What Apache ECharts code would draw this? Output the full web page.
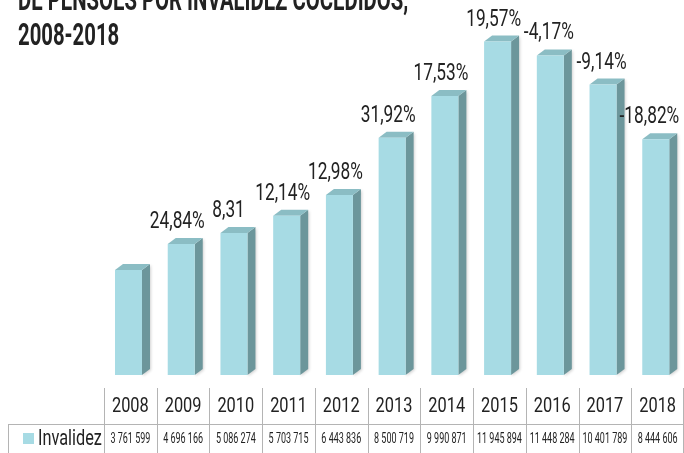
<!DOCTYPE html>
<html>
<head>
<meta charset="utf-8">
<script src="https://cdn.jsdelivr.net/npm/echarts@6/dist/echarts.min.js"></script>
<style>
html,body{margin:0;padding:0;background:#fff;}
#chart{width:684px;height:453px;}
</style>
</head>
<body>
<div id="chart"></div>
<script>
const years = ['2008','2009','2010','2011','2012','2013','2014','2015','2016','2017','2018'];
const values = [3761599, 4696166, 5086274, 5703715, 6443836, 8500719, 9990871, 11945894, 11448284, 10401789, 8444606];
const pctLabels = ['', '24,84%', '8,31', '12,14%', '12,98%', '31,92%', '17,53%', '19,57%', '-4,17%', '-9,14%', '-18,82%'];
const seriesName = 'Invalidez';
const titleLines = ['DE PENSOES POR INVALIDEZ COCEDIDOS,', '2008-2018'];

const FRONT = '#a7dbe4', TOP = '#8bbdc4', SIDE = '#6c969b';
const TEXT = '#222222', LINE = '#b4b4b4';
const FONT = 'Roboto, "Liberation Sans", sans-serif';

function fmt(v){ return String(v).replace(/\B(?=(\d{3})+(?!\d))/g, ' '); }

const chart = echarts.init(document.getElementById('chart'));
const data = values.map((v,i)=>[i, v]);

function renderItem(params, api){
  const idx = api.value(0);
  const val = api.value(1);
  const c = api.coord([idx, val]);
  const b = api.coord([idx, 0]);
  const bw = api.size([1, 0])[0];
  const fw = 27, dx = 8, dy = 6;
  const x0 = c[0] - bw/2 + 11;
  const top = c[1], bot = b[1];
  const children = [];
  children.push({type:'polygon', shape:{points:[[x0+fw,top],[x0+fw+dx,top-dy],[x0+fw+dx,bot-dy],[x0+fw,bot]]},
    style:{fill:SIDE, shadowBlur:3, shadowOffsetX:1, shadowOffsetY:1, shadowColor:'rgba(0,0,0,0.18)'}});
  children.push({type:'polygon', shape:{points:[[x0,top],[x0+fw,top],[x0+fw+dx,top-dy],[x0+dx,top-dy]]}, style:{fill:TOP}});
  children.push({type:'rect', shape:{x:x0, y:top, width:fw, height:bot-top}, style:{fill:FRONT}});
  const lbl = pctLabels[idx];
  if (lbl) {
    const hasPct = lbl.endsWith('%');
    children.push({type:'text', x: x0 + fw + dx + 2, y: top - dy - 4, scaleX: 0.72,
      style:{text: hasPct ? lbl : lbl + '{h|%}', fontSize:24, fontFamily:FONT, fill:TEXT, align:'right', verticalAlign:'bottom',
        rich:{h:{fontSize:24, fontFamily:FONT, fill:'rgba(0,0,0,0)'}}}});
  }
  // table: year and value
  children.push({type:'text', x: c[0], y: bot + 32, scaleX: 0.78,
    style:{text:years[idx], fontSize:21, fontFamily:FONT, fill:TEXT, align:'center', verticalAlign:'middle'}});
  children.push({type:'text', x: c[0], y: bot + 64, scaleX: 0.6,
    style:{text:fmt(val), fontSize:15, fontFamily:FONT, fill:TEXT, align:'center', verticalAlign:'middle'}});
  const lx = Math.round(c[0] - bw/2) + 0.5;
  children.push({type:'line', shape:{x1:lx, y1:bot+13, x2:lx, y2:bot+80}, style:{stroke:LINE, lineWidth:1}});
  if (idx === years.length - 1) {
    const rx = Math.round(c[0] + bw/2) - 0.5;
    children.push({type:'line', shape:{x1:rx, y1:bot+13, x2:rx, y2:bot+80}, style:{stroke:LINE, lineWidth:1}});
  }
  return {type:'group', children};
}

chart.setOption({
  animation:false,
  grid:{left:104, right:0, top:40, bottom:78},
  xAxis:{type:'category', data:years, show:false},
  yAxis:{type:'value', min:0, max:12000000, show:false},
  series:[{type:'custom', name:seriesName, data:data, renderItem:renderItem, clip:false}],
  graphic:[
    {type:'text', x:18, y:18, scaleX:0.655, style:{text:titleLines[0], fontSize:31, fontWeight:'bold', fontFamily:FONT, fill:TEXT, verticalAlign:'bottom'}},
    {type:'text', x:18, y:53, scaleX:0.655, style:{text:titleLines[1], fontSize:31, fontWeight:'bold', fontFamily:FONT, fill:TEXT, verticalAlign:'bottom'}},
    {type:'line', shape:{x1:8, y1:424.5, x2:684, y2:424.5}, style:{stroke:LINE, lineWidth:1}},
    {type:'line', shape:{x1:8.5, y1:424, x2:8.5, y2:453}, style:{stroke:LINE, lineWidth:1}},
    {type:'rect', shape:{x:23, y:433, width:11, height:11}, style:{fill:FRONT}},
    {type:'text', x:38, y:439, scaleX:0.74, style:{text:seriesName, fontSize:22, fontFamily:FONT, fill:TEXT, verticalAlign:'middle'}}
  ]
});
</script>
</body>
</html>
